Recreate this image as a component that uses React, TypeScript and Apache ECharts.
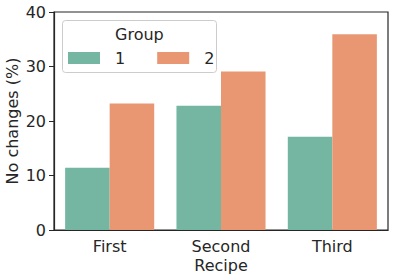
import React, { useEffect, useRef } from "react";
import * as echarts from "echarts";

const categories = ["First", "Second", "Third"];
const group1 = [11.4, 22.8, 17.1];
const group2 = [23.2, 29.1, 35.9];
const yTicks = [0, 10, 20, 30, 40];

export default function App() {
  const ref = useRef<HTMLDivElement>(null);
  useEffect(() => {
    if (!ref.current) return;
    const chart = echarts.init(ref.current, undefined, { renderer: "svg" });
    const font = "DejaVu Sans";
    const dark = "#262626";
    chart.setOption({
      animation: false,
      textStyle: { fontFamily: font },
      grid: {
        left: 54, right: 7, top: 12, bottom: 48,
        containLabel: false,
        outerBoundsMode: "none",
        show: true, borderColor: dark, borderWidth: 1.2, backgroundColor: "transparent",
      },
      xAxis: {
        type: "category",
        data: categories,
        name: "Recipe",
        nameLocation: "middle",
        nameGap: 27,
        nameMoveOverlap: false,
        nameTextStyle: { fontSize: 16, color: dark, fontFamily: font },
        axisLine: { lineStyle: { color: dark, width: 1.2 } },
        axisTick: { alignWithLabel: true, length: 5, lineStyle: { color: dark } },
        axisLabel: { fontSize: 16, color: dark, margin: 8, fontFamily: font },
      },
      yAxis: {
        type: "value",
        min: yTicks[0],
        max: yTicks[yTicks.length - 1],
        interval: 10,
        name: "No changes (%)",
        nameLocation: "middle",
        nameGap: 34,
        nameMoveOverlap: false,
        nameTextStyle: { fontSize: 16, color: dark, fontFamily: font },
        axisLine: { show: true, lineStyle: { color: dark, width: 1.2 } },
        axisTick: { show: true, length: 5, lineStyle: { color: dark } },
        axisLabel: { fontSize: 16, color: dark, margin: 8, fontFamily: font },
        splitLine: { show: false },
      },
      legend: {
        left: 63,
        top: 45,
        itemWidth: 32,
        itemHeight: 12,
        itemGap: 32,
        icon: "rect",
        textStyle: { fontSize: 16, color: dark, fontFamily: font, padding: [0, 0, 0, 10] },
        data: ["1", "2"],
      },
      graphic: [
        {
          type: "rect",
          left: 62,
          top: 20,
          shape: { width: 154, height: 52, r: 3 },
          style: { fill: "rgba(255,255,255,0.8)", stroke: "#cccccc", lineWidth: 1 },
          z: 0,
        },
        {
          type: "text",
          left: 115,
          top: 26,
          style: { text: "Group", fontSize: 16, fill: dark, fontFamily: font },
          z: 10,
        },
      ],
      series: [
        {
          name: "1",
          type: "bar",
          data: group1,
          barGap: "0%",
          barCategoryGap: "20%",
          itemStyle: { color: "#74b6a1" },
        },
        {
          name: "2",
          type: "bar",
          data: group2,
          barGap: "0%",
          barCategoryGap: "20%",
          itemStyle: { color: "#e99673" },
        },
      ],
    });
    return () => chart.dispose();
  }, []);
  return <div ref={ref} style={{ width: 395, height: 278, position: "absolute", left: 0, top: 0 }} />;
}
